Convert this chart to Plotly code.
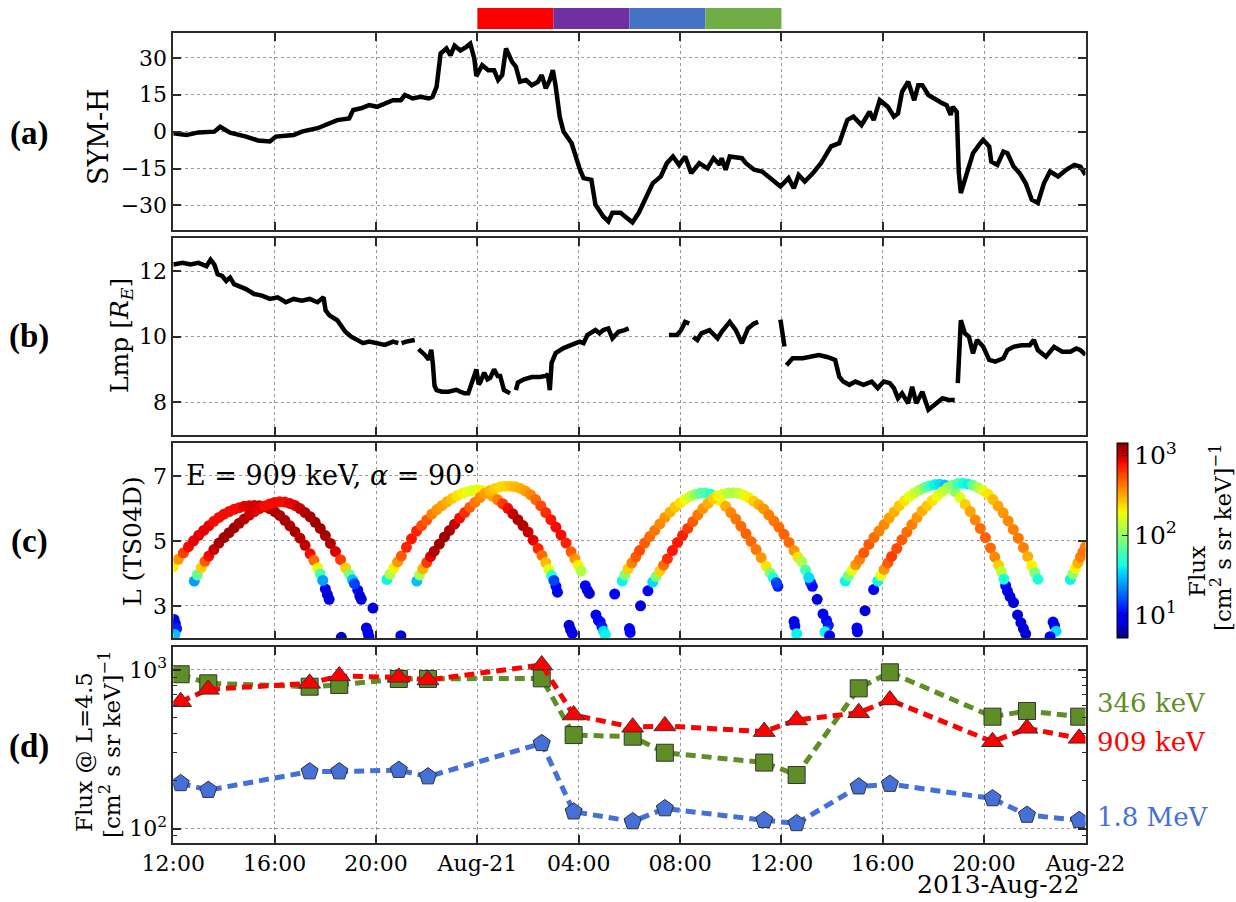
import numpy as np
import pandas as pd
import plotly.graph_objects as go

BASE = pd.Timestamp("2013-08-20 12:00")


def to_time(hours):
    return [BASE + pd.Timedelta(hours=h) for h in hours]


# ---------------- axis ticks ----------------
tick_hours = [0, 4, 8, 12, 16, 20, 24, 28, 32, 36]
tick_labels = ["12:00", "16:00", "20:00", "Aug-21", "04:00", "08:00",
               "12:00", "16:00", "20:00", "Aug-22"]

# ---------------- (a) SYM-H ----------------
symh_h = [0.0, 0.52, 0.99, 1.62, 1.85, 2.24, 2.87, 3.34, 3.81, 4.05,
          4.75, 5.07, 5.69, 6.16, 6.47, 6.94, 7.1, 7.41, 7.73, 8.04,
          8.35, 8.67, 8.98, 9.14, 9.45, 9.76, 10.08, 10.23, 10.39, 10.55,
          10.78, 10.94, 11.1, 11.33, 11.57, 11.72, 11.88, 11.96, 12.19, 12.43,
          12.66, 12.82, 12.98, 13.13, 13.37, 13.52, 13.68, 13.92, 14.15, 14.39,
          14.54, 14.7, 14.86, 14.98, 15.09, 15.25, 15.4, 15.72, 16.03, 16.19,
          16.5, 16.66, 16.97, 17.17, 17.33, 17.65, 17.89, 18.12, 18.37, 18.6,
          18.92, 19.24, 19.48, 19.72, 19.96, 20.2, 20.44, 20.76, 21.08, 21.32,
          21.56, 21.64, 21.8, 21.96, 22.44, 22.6, 22.92, 23.24, 23.56, 23.96,
          24.28, 24.49, 24.68, 24.92, 25.24, 25.56, 25.96, 26.28, 26.6, 26.84,
          27.16, 27.48, 27.64, 27.88, 28.2, 28.44, 28.6, 28.76, 29.0, 29.24,
          29.4, 29.56, 29.8, 30.12, 30.36, 30.52, 30.68, 30.76, 30.92, 31.0,
          31.08, 31.32, 31.56, 31.8, 31.96, 32.2, 32.28, 32.52, 32.76, 32.92,
          33.16, 33.4, 33.64, 33.88, 34.12, 34.36, 34.6, 34.92, 35.24, 35.56,
          35.8, 36.0]
symh_v = [-0.7, -1.4, -0.3, 0.0, 2.0, -0.4, -2.0, -3.6, -4.0, -2.0,
          -1.4, 0.0, 1.4, 3.1, 4.7, 5.4, 8.8, 9.5, 10.8, 10.1,
          11.5, 12.8, 12.8, 14.9, 13.5, 14.2, 13.5, 14.2, 18.2, 31.8,
          33.8, 31.0, 35.0, 33.0, 34.5, 35.8, 29.7, 22.6, 27.0, 25.0,
          25.0, 21.0, 23.0, 33.8, 28.4, 26.4, 20.3, 21.0, 18.9, 20.3,
          23.0, 17.6, 21.0, 25.0, 18.5, 6.0, 0.0, -4.7, -14.9, -18.9,
          -19.6, -29.7, -34.5, -36.5, -33.0, -33.0, -35.0, -36.9, -33.0, -27.7,
          -21.0, -18.2, -12.8, -10.1, -13.5, -10.1, -16.9, -12.8, -14.9, -10.8,
          -13.5, -10.8, -15.5, -10.1, -10.8, -12.8, -15.5, -16.2, -18.9, -22.3,
          -18.9, -23.0, -17.6, -20.3, -16.9, -12.8, -6.0, -4.7, 4.7, 6.1,
          2.7, 8.1, 4.7, 12.8, 10.1, 6.1, 7.4, 16.2, 20.3, 12.8,
          18.9, 18.9, 14.9, 12.8, 11.5, 10.8, 6.8, 10.1, 8.1, -16.9,
          -25.0, -16.9, -8.8, -5.4, -3.4, -6.0, -12.2, -13.5, -8.1, -8.8,
          -14.2, -16.9, -21.0, -27.7, -29.0, -21.0, -16.2, -18.2, -15.5, -13.5,
          -14.2, -17.6]

# ---------------- (b) Lmp ----------------
lmp_h = [0.0, 0.37, 0.68, 0.99, 1.31, 1.47, 1.62, 1.75, 1.93, 2.09,
         2.24, 2.4, 2.56, 2.87, 3.19, 3.5, 3.81, 4.12, 4.44, 4.75,
         5.07, 5.38, 5.69, 5.93, 6.01, 6.16, 6.47, 6.63, 6.79, 7.02,
         7.26, 7.49, 7.73, 8.04, 8.35, 8.67, 8.88, 8.95, 9.01, 9.2,
         9.53, 9.6, 9.68, 9.8, 9.92, 10.08, 10.18, 10.24, 10.31, 10.39,
         10.6, 10.86, 11.05, 11.17, 11.33, 11.49, 11.64, 11.8, 11.96, 12.05,
         12.11, 12.27, 12.4, 12.51, 12.66, 12.8, 12.9, 13.05, 13.29, 13.4,
         13.52, 13.6, 13.84, 14.15, 14.46, 14.7, 14.78, 14.86, 14.93, 15.09,
         15.4, 15.72, 16.03, 16.19, 16.34, 16.66, 16.82, 16.97, 17.17, 17.33,
         17.57, 17.81, 17.97, 18.8, 19.56, 19.88, 20.04, 20.2, 20.36, 20.44,
         20.52, 20.68, 20.84, 21.16, 21.48, 21.64, 21.96, 22.2, 22.44, 22.68,
         22.92, 23.08, 23.5, 23.96, 24.12, 24.16, 24.2, 24.44, 24.84, 25.16,
         25.48, 25.8, 26.12, 26.28, 26.44, 26.68, 26.92, 27.24, 27.56, 27.8,
         28.04, 28.28, 28.44, 28.6, 28.76, 29.0, 29.16, 29.32, 29.56, 29.8,
         30.12, 30.36, 30.6, 30.84, 30.9, 30.96, 31.08, 31.24, 31.4, 31.56,
         31.72, 31.96, 32.2, 32.44, 32.76, 32.92, 33.16, 33.48, 33.8, 33.96,
         34.12, 34.44, 34.76, 35.08, 35.4, 35.64, 35.8, 36.0]
lmp_v = [12.2, 12.25, 12.2, 12.25, 12.15, 12.35, 12.2, 11.9, 11.85, 11.7,
         11.8, 11.6, 11.55, 11.45, 11.3, 11.25, 11.15, 11.2, 11.05, 11.15,
         11.1, 11.15, 11.05, 11.2, 10.8, 10.65, 10.5, 10.35, 10.15, 10.0,
         9.9, 9.8, 9.85, 9.8, 9.75, 9.85, 9.8, None, 9.8, 9.85,
         9.9, None, 9.62, 9.55, 9.45, 9.3, 9.6, 9.2, 8.5, 8.37,
         8.32, 8.32, 8.35, 8.38, 8.32, 8.27, 8.27, 8.6, 9.0, 8.55,
         8.6, 8.9, 8.7, 8.75, 9.0, 8.8, 8.8, 8.37, 8.27, None,
         8.37, 8.6, 8.7, 8.77, 8.77, 8.8, 8.85, 8.37, 9.2, 9.5,
         9.65, 9.75, 9.85, 9.8, 10.05, 10.2, 10.1, 10.2, 10.25, 9.95,
         10.15, 10.2, 10.25, None, 10.05, 10.05, 10.2, 10.45, 10.4, None,
         9.99, 9.9, 10.1, 10.2, 9.95, 10.15, 10.45, 10.2, 9.8, 10.25,
         10.4, 10.45, None, 10.52, 9.7, None, 9.13, 9.34, 9.34, 9.38,
         9.44, 9.38, 9.29, 8.78, 8.63, 8.53, 8.63, 8.53, 8.63, 8.43,
         8.63, 8.58, 8.43, 8.12, 8.27, 7.97, 8.47, 7.97, 8.32, 7.77,
         7.97, 8.12, 8.07, 8.07, None, 8.58, 10.5, 10.1, 10.0, 9.49,
         9.9, 9.7, 9.29, 9.24, 9.34, 9.59, 9.69, 9.74, 9.74, 9.9,
         9.59, 9.39, 9.69, 9.54, 9.54, 9.64, 9.59, 9.44]

# ---------------- (c) L vs time, coloured by flux ----------------
arc1_t = [0.0, 0.2, 0.4, 0.6, 0.8, 1.0, 1.2, 1.4, 1.6, 1.8, 2.0, 2.2, 2.4, 2.6, 2.8, 3.0,
          3.2, 3.4, 3.6, 3.8, 4.0, 4.2, 4.4, 4.6, 4.8, 5.0, 5.2, 5.4, 5.55, 5.7, 5.8, 5.9]
arc1_L = [4.2, 4.43, 4.63, 4.82, 5.0, 5.17, 5.32, 5.46, 5.6, 5.72, 5.82, 5.9, 5.97, 6.02, 6.06, 6.08,
          6.09, 6.08, 6.05, 5.99, 5.9, 5.78, 5.63, 5.46, 5.28, 5.08, 4.86, 4.6, 4.4, 4.16, 3.98, 3.78]
arc1_f = [200, 350, 600, 800, 850, 850, 850, 850, 800, 800, 800, 800, 800, 800, 850, 900,
          950, 1000, 1050, 1100, 1150, 1150, 1150, 1150, 1150, 1100, 1050, 800, 450, 200, 60, 25]

arc2_t = [0.83, 0.95, 1.1, 1.25, 1.4, 1.6, 1.8, 2.0, 2.2, 2.4, 2.6, 2.8, 3.0, 3.2, 3.4, 3.6, 3.8,
          4.0, 4.2, 4.4, 4.6, 4.8, 5.0, 5.2, 5.4, 5.6, 5.8, 6.0, 6.2, 6.4, 6.6, 6.8, 6.95, 7.07, 7.15]
arc2_L = [3.76, 3.95, 4.17, 4.37, 4.53, 4.73, 4.93, 5.1, 5.25, 5.4, 5.54, 5.67, 5.79, 5.9, 5.99, 6.07, 6.13,
          6.18, 6.2, 6.19, 6.15, 6.09, 5.99, 5.87, 5.74, 5.57, 5.38, 5.16, 4.92, 4.67, 4.42, 4.16, 3.97, 3.8, 3.68]
arc2_f = [25, 70, 250, 500, 800, 1000, 1150, 1200, 1200, 1200, 1150, 1100, 1000, 900, 850, 800, 800,
          800, 800, 800, 850, 900, 1000, 1100, 1150, 1200, 1200, 1150, 1100, 900, 600, 250, 80, 30, 15]

arc3_t = [8.43, 8.55, 8.7, 8.85, 9.0, 9.2, 9.4, 9.6, 9.8, 10.0, 10.2, 10.4, 10.6, 10.8, 11.0, 11.2, 11.4,
          11.6, 11.8, 12.0, 12.2, 12.4, 12.6, 12.8, 13.0, 13.2, 13.4, 13.6, 13.8, 14.0, 14.2, 14.4, 14.55,
          14.7, 14.82, 14.93, 15.02]
arc3_L = [3.81, 3.97, 4.16, 4.35, 4.53, 4.8, 5.06, 5.3, 5.47, 5.64, 5.82, 5.96, 6.08, 6.2, 6.3, 6.39, 6.46,
          6.51, 6.55, 6.57, 6.54, 6.47, 6.37, 6.26, 6.14, 6.0, 5.83, 5.65, 5.47, 5.27, 5.02, 4.76, 4.55,
          4.33, 4.12, 3.93, 3.78]
arc3_f = [40, 120, 200, 350, 500, 700, 750, 700, 550, 500, 400, 350, 330, 300, 260, 220, 200,
          180, 170, 180, 200, 250, 320, 400, 600, 800, 1000, 1100, 1100, 1000, 850, 700, 450,
          280, 170, 50, 15]

arc4_t = [9.61, 9.72, 9.85, 10.0, 10.15, 10.3, 10.5, 10.7, 10.9, 11.1, 11.3, 11.5, 11.7, 11.9, 12.1, 12.3,
          12.5, 12.7, 12.9, 13.1, 13.3, 13.5, 13.7, 13.9, 14.1, 14.3, 14.5, 14.7, 14.9, 15.1, 15.3, 15.5,
          15.7, 15.85, 15.98, 16.1]
arc4_L = [3.76, 3.95, 4.14, 4.33, 4.51, 4.68, 4.9, 5.12, 5.32, 5.51, 5.7, 5.87, 6.03, 6.18, 6.33, 6.46,
          6.55, 6.61, 6.66, 6.68, 6.68, 6.66, 6.61, 6.53, 6.42, 6.27, 6.08, 5.87, 5.65, 5.42, 5.18, 4.93,
          4.66, 4.45, 4.25, 4.07]
arc4_f = [30, 120, 300, 600, 900, 1100, 1200, 1200, 1150, 1000, 800, 650, 500, 420, 380, 330,
          280, 250, 230, 240, 260, 280, 300, 330, 380, 450, 550, 650, 750, 800, 800, 700,
          500, 350, 200, 120]

arc5_t = [17.72, 17.82, 17.95, 18.1, 18.25, 18.4, 18.6, 18.8, 19.0, 19.2, 19.4, 19.6, 19.8, 20.0, 20.2,
          20.4, 20.6, 20.8, 21.0, 21.2, 21.4, 21.6, 21.8, 22.0, 22.2, 22.4, 22.6, 22.8, 23.0, 23.2, 23.4,
          23.55, 23.68, 23.8]
arc5_L = [3.76, 3.95, 4.14, 4.32, 4.5, 4.7, 4.93, 5.13, 5.32, 5.52, 5.72, 5.88, 6.04, 6.17, 6.28,
          6.37, 6.43, 6.47, 6.47, 6.44, 6.36, 6.23, 6.06, 5.87, 5.67, 5.45, 5.22, 4.98, 4.73, 4.48, 4.22,
          4.02, 3.86, 3.71]
arc5_f = [40, 90, 250, 400, 500, 550, 500, 450, 420, 380, 350, 300, 260, 220, 180,
          140, 100, 70, 60, 50, 80, 200, 300, 380, 420, 450, 480, 450, 420, 350, 220,
          90, 45, 15]

arc6_t = [18.92, 19.05, 19.2, 19.35, 19.5, 19.7, 19.9, 20.1, 20.3, 20.5, 20.7, 20.9, 21.1, 21.3, 21.5,
          21.7, 21.9, 22.1, 22.3, 22.5, 22.7, 22.9, 23.1, 23.3, 23.5, 23.7, 23.9, 24.1, 24.3, 24.5, 24.65,
          24.8, 24.95, 25.08]
arc6_L = [3.73, 3.9, 4.07, 4.25, 4.45, 4.7, 4.95, 5.17, 5.38, 5.59, 5.8, 5.99, 6.15, 6.29, 6.38,
          6.44, 6.47, 6.48, 6.46, 6.41, 6.33, 6.22, 6.11, 5.98, 5.8, 5.61, 5.42, 5.2, 4.95, 4.7, 4.5,
          4.36, 4.1, 3.87]
arc6_f = [35, 90, 250, 450, 650, 750, 750, 700, 600, 500, 420, 350, 300, 250, 200,
          160, 130, 120, 140, 170, 200, 250, 300, 350, 400, 420, 450, 480, 450, 350, 220,
          120, 60, 35]

arc7_t = [26.52, 26.64, 26.78, 26.93, 27.08, 27.25, 27.45, 27.65, 27.85, 28.05, 28.25, 28.45, 28.65,
          28.85, 29.05, 29.25, 29.45, 29.65, 29.85, 30.05, 30.25, 30.45, 30.65, 30.85, 31.05, 31.25,
          31.45, 31.65, 31.85, 32.05, 32.25, 32.42, 32.57, 32.68, 32.78]
arc7_L = [3.76, 3.92, 4.09, 4.26, 4.42, 4.63, 4.89, 5.1, 5.3, 5.5, 5.7, 5.89, 6.08,
          6.23, 6.36, 6.47, 6.56, 6.64, 6.69, 6.73, 6.74, 6.72, 6.65, 6.52, 6.33, 6.12,
          5.9, 5.64, 5.38, 5.1, 4.78, 4.5, 4.25, 4.05, 3.82]
arc7_f = [40, 80, 180, 350, 400, 500, 500, 450, 400, 380, 330, 300, 260,
          220, 180, 150, 120, 80, 55, 40, 35, 30, 45, 90, 170, 250,
          320, 380, 450, 480, 450, 380, 250, 130, 45]

arc8_t = [27.8, 27.92, 28.05, 28.2, 28.35, 28.55, 28.75, 28.95, 29.15, 29.35, 29.55, 29.75, 29.95,
          30.15, 30.35, 30.55, 30.75, 30.95, 31.15, 31.35, 31.55, 31.75, 31.95, 32.15, 32.35, 32.55,
          32.75, 32.95, 33.15, 33.35, 33.55, 33.72, 33.88, 34.0, 34.12]
arc8_L = [3.76, 3.93, 4.12, 4.32, 4.52, 4.76, 5.03, 5.27, 5.5, 5.72, 5.92, 6.08, 6.24,
          6.38, 6.51, 6.63, 6.71, 6.76, 6.77, 6.75, 6.71, 6.64, 6.55, 6.43, 6.27, 6.07,
          5.86, 5.61, 5.35, 5.08, 4.79, 4.52, 4.24, 4.02, 3.82]
arc8_f = [40, 180, 350, 500, 600, 550, 500, 450, 400, 350, 300, 260, 220,
          180, 150, 120, 90, 60, 45, 40, 70, 120, 170, 220, 280, 320,
          350, 380, 400, 420, 400, 300, 200, 90, 45]

arc9_t = [35.4, 35.5, 35.6, 35.7, 35.8, 35.9, 36.0]
arc9_L = [3.81, 3.98, 4.15, 4.32, 4.5, 4.66, 4.82]
arc9_f = [40, 100, 200, 300, 400, 420, 420]

tail_t = [0.03, 0.08, 0.13, 0.06, 6.0, 6.08, 6.15, 6.63, 7.28, 7.36, 7.42, 7.62, 7.68, 7.72, 7.88, 8.98,
          15.1, 15.16, 15.62, 15.68, 15.75, 16.26, 16.34, 16.42, 16.68, 16.78, 16.85, 16.92, 16.98, 17.05,
          17.42, 18.0, 18.03, 18.44, 18.73, 23.86, 24.5, 24.53, 24.6,
          25.15, 25.22, 25.41, 25.64, 25.78, 25.85, 25.72, 25.9, 26.98, 27.0, 27.3, 27.64,
          32.85, 32.92, 33.02, 33.16, 33.32, 33.45, 33.55, 33.64, 34.72, 34.78, 34.84, 34.6]
tail_L = [2.58, 2.45, 2.3, 2.12, 3.52, 3.35, 3.2, 2.03, 3.48, 3.3, 3.2, 2.32, 2.18, 2.06, 2.93, 2.08,
          3.6, 3.42, 2.4, 2.26, 2.15, 3.62, 3.48, 3.38, 2.72, 2.55, 2.5, 2.35, 2.22, 2.1,
          3.36, 2.3, 2.18, 3.0, 3.46, 3.6, 2.52, 2.38, 2.14,
          3.72, 3.6, 3.2, 2.75, 2.55, 2.4, 2.2, 2.08, 2.32, 2.2, 2.85, 3.5,
          3.62, 3.45, 3.28, 3.1, 2.72, 2.48, 2.3, 2.13, 2.5, 2.38, 2.22, 2.05]
tail_f = [9, 9, 12, 30, 9, 8, 8, 7, 9, 8, 8, 8, 10, 9, 8, 8,
          10, 9, 8, 8, 9, 10, 9, 8, 9, 10, 10, 12, 35, 40,
          10, 9, 10, 8, 9, 12, 9, 9, 40,
          14, 11, 8, 9, 10, 12, 40, 9, 9, 9, 8, 9,
          10, 9, 8, 8, 8, 8, 8, 8, 9, 9, 35, 9]

# ---------------- (d) flux at L = 4.5 ----------------
d_hours = [0.29, 1.38, 5.38, 6.55, 8.9, 10.05, 14.54, 15.8, 18.13, 19.4,
           23.32, 24.6, 27.05, 28.28, 32.33, 33.69, 35.75]
flux_346keV = [940, 824, 785, 805, 878, 878, 886, 389, 380, 301,
               261, 218, 766, 967, 508, 552, 508]
flux_909keV = [631, 755, 824, 917, 899, 865, 1075, 520, 436, 444,
               409, 484, 538, 647, 353, 429, 371]
flux_1p8MeV = [193, 175, 229, 229, 234, 213, 345, 128, 111, 134,
               113, 108, 184, 191, 155, 122, 113]

# ---------------- colours / styling ----------------
GREEN = "#5f8e27"
RED = "#ff0000"
BLUE = "#4470d8"
BAR_COLORS = ["#ff0000", "#7030a0", "#4472c4", "#70ad47"]
bar_hours = [12, 15, 18, 21, 24]

JET = [[0.0, "rgb(0,0,127)"], [0.11, "rgb(0,0,255)"], [0.125, "rgb(0,0,255)"],
       [0.34, "rgb(0,219,255)"], [0.35, "rgb(0,229,247)"], [0.375, "rgb(20,255,226)"],
       [0.64, "rgb(238,255,8)"], [0.65, "rgb(247,245,0)"], [0.66, "rgb(255,236,0)"],
       [0.89, "rgb(255,19,0)"], [0.91, "rgb(232,0,0)"], [1.0, "rgb(127,0,0)"]]
CMIN, CMAX = 0.71, 3.15

W, H = 1236, 902
X0, X1 = 173.3, 1085.5
PANELS = [(33.3, 230.0), (238.3, 435.0), (443.3, 638.3), (647.3, 842.5)]
CB_X0, CB_X1 = 1116.6, 1127.6
SERIF = "DejaVu Serif"
AXC = "#2b2b2b"


def ydom(p):
    return [1 - p[1] / H, 1 - p[0] / H]


fig = go.Figure()

fig.add_trace(go.Scatter(x=to_time(symh_h), y=symh_v, mode="lines",
                         line=dict(color="black", width=4.5), xaxis="x", yaxis="y",
                         showlegend=False))
fig.add_trace(go.Scatter(x=to_time(lmp_h), y=lmp_v, mode="lines",
                         line=dict(color="black", width=4.5), xaxis="x2", yaxis="y2",
                         showlegend=False, connectgaps=False))

c_t = tail_t + arc1_t + arc2_t + arc3_t + arc4_t + arc5_t + arc6_t + arc7_t + arc8_t + arc9_t
c_L = tail_L + arc1_L + arc2_L + arc3_L + arc4_L + arc5_L + arc6_L + arc7_L + arc8_L + arc9_L
c_f = tail_f + arc1_f + arc2_f + arc3_f + arc4_f + arc5_f + arc6_f + arc7_f + arc8_f + arc9_f

fig.add_trace(go.Scatter(
    x=to_time(c_t), y=c_L, mode="markers", xaxis="x3", yaxis="y3", showlegend=False,
    marker=dict(size=11, color=np.log10(np.array(c_f, dtype=float)), colorscale=JET,
                cmin=CMIN, cmax=CMAX, line=dict(width=0),
                colorbar=dict(x=CB_X0 / W, xanchor="left", xpad=0, ypad=0,
                              y=1 - (PANELS[2][0] + PANELS[2][1]) / 2 / H, yanchor="middle",
                              len=PANELS[2][1] - PANELS[2][0], lenmode="pixels",
                              thickness=CB_X1 - CB_X0, thicknessmode="pixels",
                              outlinecolor="black", outlinewidth=1,
                              tickmode="array", tickvals=[1, 2, 3],
                              ticktext=["10<sup>1</sup>", "10<sup>2</sup>", "10<sup>3</sup>"],
                              ticks="inside", ticklen=6, tickcolor="black", tickwidth=1,
                              tickfont=dict(family=SERIF, size=25, color="black")))))

for vals, col, sym, size in [(flux_346keV, GREEN, "square", 17),
                             (flux_909keV, RED, "triangle-up", 19),
                             (flux_1p8MeV, BLUE, "pentagon", 18)]:
    fig.add_trace(go.Scatter(
        x=to_time(d_hours), y=vals, mode="lines+markers", xaxis="x4", yaxis="y4",
        showlegend=False,
        line=dict(color=col, width=5, dash="10px,6px"),
        marker=dict(symbol=sym, size=size, color=col, line=dict(color="#333333", width=1))))

common_x = dict(type="date", range=["2013-08-20 12:00:00", "2013-08-22 00:00:00"],
                tickmode="array", tickvals=to_time(tick_hours), ticktext=tick_labels,
                domain=[X0 / W, X1 / W])
frame = dict(showline=True, linecolor=AXC, linewidth=1.6, mirror="ticks", ticks="inside",
             ticklen=8, tickwidth=1.5, tickcolor=AXC, zeroline=False, automargin=False,
             showgrid=True, gridcolor="#9a9a9a", gridwidth=1, griddash="dot",
             tickfont=dict(family=SERIF, size=22, color="black"))

layout = dict(width=W, height=H, margin=dict(l=0, r=0, t=0, b=0, autoexpand=False),
              paper_bgcolor="white", plot_bgcolor="white", showlegend=False)
for i in range(1, 5):
    key = "xaxis" if i == 1 else f"xaxis{i}"
    layout[key] = dict(anchor="y" if i == 1 else f"y{i}", showticklabels=(i == 4),
                       **common_x, **frame)

layout["yaxis"] = dict(domain=ydom(PANELS[0]), anchor="x", range=[-40, 40],
                       tickmode="array", tickvals=[-30, -15, 0, 15, 30],
                       ticktext=["\u221230", "\u221215", "0", "15", "30"], **frame)
layout["yaxis2"] = dict(domain=ydom(PANELS[1]), anchor="x2", range=[7, 13],
                        tickmode="array", tickvals=[8, 10, 12], ticktext=["8", "10", "12"], **frame)
layout["yaxis3"] = dict(domain=ydom(PANELS[2]), anchor="x3", range=[2, 8],
                        tickmode="array", tickvals=[3, 5, 7], ticktext=["3", "5", "7"], **frame)
minor_vals = [90, 200, 300, 400, 500, 600, 700, 800, 900]
layout["yaxis4"] = dict(domain=ydom(PANELS[3]), anchor="x4", type="log", range=[1.913, 3.143],
                        tickmode="array", tickvals=[100, 1000],
                        ticktext=["10<sup>2</sup>", "10<sup>3</sup>"],
                        minor=dict(ticks="inside", ticklen=4, tickwidth=1.2, tickcolor=AXC,
                                   tickmode="array", tickvals=minor_vals, showgrid=False),
                        **frame)

shapes = []
for k in range(4):
    shapes.append(dict(type="rect", xref="x", yref="paper",
                       x0=BASE + pd.Timedelta(hours=bar_hours[k]),
                       x1=BASE + pd.Timedelta(hours=bar_hours[k + 1]),
                       y0=1 - 29 / H, y1=1 - 8 / H, fillcolor=BAR_COLORS[k], line=dict(width=0)))
# minor ticks on the colour bar (2..9 x 10^n)
cb_h = PANELS[2][1] - PANELS[2][0]
for dec in [1, 10, 100]:
    for k in range(2, 10):
        lv = np.log10(k * dec)
        if CMIN < lv < CMAX:
            ypx = PANELS[2][1] - (lv - CMIN) / (CMAX - CMIN) * cb_h
            shapes.append(dict(type="line", xref="paper", yref="paper",
                               x0=(CB_X1 - 3.5) / W, x1=CB_X1 / W, y0=1 - ypx / H, y1=1 - ypx / H,
                               line=dict(color="black", width=1)))
layout["shapes"] = shapes

ann = []
for lab, yc in [("(a)", 133), ("(b)", 336.7), ("(c)", 541.7), ("(d)", 746.7)]:
    ann.append(dict(text=f"<b>{lab}</b>", x=29 / W, y=1 - yc / H, xref="paper", yref="paper",
                    showarrow=False, xanchor="center", yanchor="middle",
                    font=dict(family="Liberation Serif", size=33, color="black")))

ylabels = [("SYM-H", 99, 137, 27),
           ("Lmp [<i>R</i><sub><i>E</i></sub>]", 121, 336, 25),
           ("L (TS04D)", 132, 541, 25),
           ("Flux @ L=4.5", 84, 752, 23),
           ("[cm<sup>2</sup> s sr keV]<sup>\u22121</sup>", 110, 745, 23)]
for txt, xc, yc, fs in ylabels:
    ann.append(dict(text=txt, x=xc / W, y=1 - yc / H, xref="paper", yref="paper",
                    showarrow=False, textangle=-90, xanchor="center", yanchor="middle",
                    font=dict(family=SERIF, size=fs, color="black")))

ann.append(dict(text="Flux", x=1197 / W, y=1 - 572 / H, xref="paper", yref="paper",
                showarrow=False, textangle=-90, xanchor="center", yanchor="middle",
                font=dict(family=SERIF, size=23, color="black")))
ann.append(dict(text="[cm<sup>2</sup> s sr keV]<sup>\u22121</sup>", x=1221 / W, y=1 - 538 / H,
                xref="paper", yref="paper", showarrow=False, textangle=-90,
                xanchor="center", yanchor="middle",
                font=dict(family=SERIF, size=23, color="black")))

ann.append(dict(text="E = 909 keV, <i>\u03b1</i> = 90\u00b0", x=184 / W, y=1 - 475 / H,
                xref="paper", yref="paper", showarrow=False, xanchor="left", yanchor="middle",
                font=dict(family=SERIF, size=27, color="black")))

for txt, col, yc in [("346 keV", GREEN, 703), ("909 keV", RED, 742), ("1.8 MeV", BLUE, 817)]:
    ann.append(dict(text=txt, x=1095 / W, y=1 - yc / H, xref="paper", yref="paper",
                    showarrow=False, xanchor="left", yanchor="middle",
                    font=dict(family=SERIF, size=26, color=col)))

ann.append(dict(text="2013-Aug-22", x=1082 / W, y=1 - 901 / H, xref="paper", yref="paper",
                showarrow=False, xanchor="right", yanchor="bottom",
                font=dict(family=SERIF, size=25, color="black")))
layout["annotations"] = ann

fig.update_layout(**layout)
fig.write_html("out.html")
